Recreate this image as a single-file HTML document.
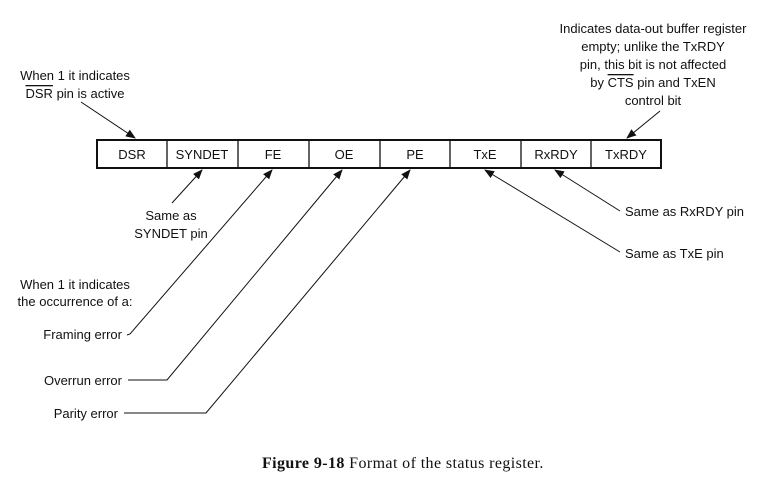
<!DOCTYPE html>
<html><head><meta charset="utf-8"><style>
html,body{margin:0;padding:0;background:#fff;}
svg{display:block}
text{font-family:"Liberation Sans",sans-serif;font-size:13px;fill:#111;}
.c{text-anchor:middle}
.cap{font-family:"Liberation Serif",serif;font-size:16px;letter-spacing:0.4px}
.ov{text-decoration:overline}
</style></head><body>
<svg width="769" height="494" viewBox="0 0 769 494">
<defs><marker id="a" markerWidth="10" markerHeight="8" refX="9" refY="4" orient="auto" markerUnits="userSpaceOnUse"><path d="M0,0 L10,4 L0,8 Z" fill="#111"/></marker></defs>
<g stroke="#111" fill="none">
<rect x="97" y="140" width="564" height="28" stroke-width="2"/>
<path d="M167,140V168M238,140V168M309,140V168M380,140V168M450,140V168M521,140V168M591,140V168" stroke-width="1.3"/>
<g stroke-width="1" marker-end="url(#a)">
<line x1="81" y1="102" x2="135" y2="138"/>
<line x1="660" y1="111" x2="627" y2="138"/>
<line x1="172" y1="203" x2="202" y2="170"/>
<polyline points="127,335 130,334 272,170"/>
<polyline points="128,380 167,380 342,170"/>
<polyline points="124,413 206,413 410,170"/>
<line x1="620" y1="252" x2="485" y2="170"/>
<line x1="620" y1="211" x2="555" y2="170"/>
</g>
</g>
<text x="75" y="80" class="c">When 1 it indicates</text>
<text x="75" y="98" class="c"><tspan class="ov">DSR</tspan> pin is active</text>
<text x="653" y="33" class="c">Indicates data-out buffer register</text>
<text x="653" y="51" class="c">empty; unlike the TxRDY</text>
<text x="653" y="69" class="c">pin, this bit is not affected</text>
<text x="653" y="87" class="c">by <tspan class="ov">CTS</tspan> pin and TxEN</text>
<text x="653" y="105" class="c">control bit</text>
<text x="132" y="159" class="c">DSR</text>
<text x="202" y="159" class="c">SYNDET</text>
<text x="273" y="159" class="c">FE</text>
<text x="344" y="159" class="c">OE</text>
<text x="415" y="159" class="c">PE</text>
<text x="485" y="159" class="c">TxE</text>
<text x="556" y="159" class="c">RxRDY</text>
<text x="626" y="159" class="c">TxRDY</text>
<text x="171" y="220" class="c">Same as</text>
<text x="171" y="238" class="c">SYNDET pin</text>
<text x="75" y="289" class="c">When 1 it indicates</text>
<text x="75" y="306" class="c">the occurrence of a:</text>
<text x="122" y="339" text-anchor="end">Framing error</text>
<text x="122" y="385" text-anchor="end">Overrun error</text>
<text x="118" y="418" text-anchor="end">Parity error</text>
<text x="625" y="216">Same as RxRDY pin</text>
<text x="625" y="258">Same as TxE pin</text>
<text x="262" y="468" class="cap"><tspan font-weight="bold">Figure 9-18</tspan>  Format of the status register.</text>
</svg>
</body></html>
